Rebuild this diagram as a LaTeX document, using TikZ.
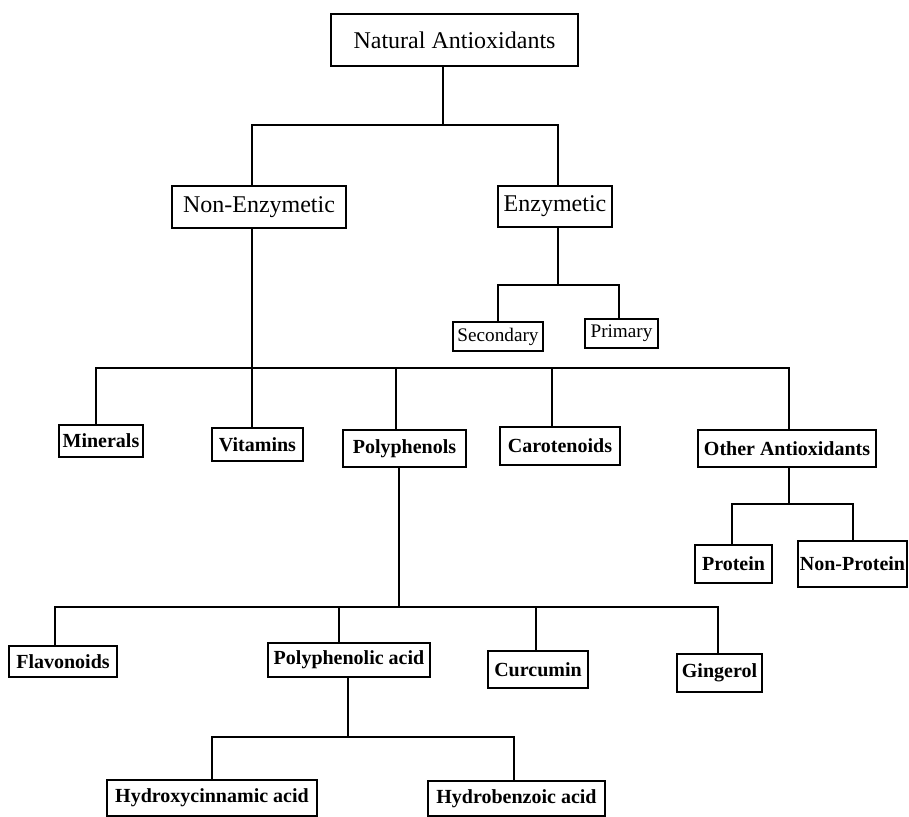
\documentclass[tikz,border=0pt]{standalone}
\usepackage{fontspec}
\setmainfont{Liberation Serif}
\tikzset{
  box/.style={draw, line width=1pt, rectangle, inner sep=0pt, align=center},
  topbox/.style={box, font=\fontsize{12}{14}\selectfont},
  smallbox/.style={box, font=\fontsize{9.6}{11}\selectfont},
  boldbox/.style={box, font=\bfseries\fontsize{10}{12}\selectfont},
  link/.style={line width=1pt}
}
\begin{document}
\begin{tikzpicture}[x=0.5pt, y=-0.5pt]
  \useasboundingbox (0,0) rectangle (909,817);
  % top levels
  \node[topbox, minimum width=123.5pt, minimum height=26pt] (nat) at (454.5,40) {Natural Antioxidants};
  \node[topbox, minimum width=87pt, minimum height=21pt] (nonenz) at (259,207) {Non-Enzymetic};
  \node[topbox, minimum width=57pt, minimum height=20.5pt] (enz) at (555,206.5) {Enzymetic};
  \node[smallbox, minimum width=45pt, minimum height=14.5pt] (sec) at (498,336.5) {Secondary};
  \node[smallbox, minimum width=36.5pt, minimum height=14.5pt] (prim) at (621.5,333.5) {Primary};
  % non-enzymetic groups
  \node[boldbox, minimum width=42pt, minimum height=16pt] (min) at (101,441) {Minerals};
  \node[boldbox, minimum width=45.5pt, minimum height=16.5pt] (vit) at (257.5,444.5) {Vitamins};
  \node[boldbox, minimum width=61.5pt, minimum height=18.5pt] (poly) at (404.5,448.5) {Polyphenols};
  \node[boldbox, minimum width=60pt, minimum height=19pt] (caro) at (560,446) {Carotenoids};
  \node[boldbox, minimum width=89pt, minimum height=18.5pt] (other) at (787,448.5) {Other Antioxidants};
  \node[boldbox, minimum width=38.5pt, minimum height=19pt] (prot) at (733.5,564) {Protein};
  \node[boldbox, minimum width=54.5pt, minimum height=23pt] (nonprot) at (852.5,564) {Non-Protein};
  % polyphenols
  \node[boldbox, minimum width=54pt, minimum height=15.5pt] (flav) at (63,661.5) {Flavonoids};
  \node[boldbox, minimum width=81pt, minimum height=17pt] (pacid) at (349,660) {Polyphenolic acid};
  \node[boldbox, minimum width=50pt, minimum height=18.5pt] (curc) at (538,669.5) {Curcumin};
  \node[boldbox, minimum width=42.5pt, minimum height=19pt] (ging) at (719.5,673) {Gingerol};
  \node[boldbox, minimum width=105pt, minimum height=18pt] (hcin) at (212,798) {Hydroxycinnamic acid};
  \node[boldbox, minimum width=88.5pt, minimum height=17.5pt] (hbenz) at (516.5,798.5) {Hydrobenzoic acid};

  % bus points
  \coordinate (j0) at (443,125);
  \coordinate (t1) at (252,125);
  \coordinate (t2) at (558,125);
  \coordinate (e1) at (498,285);
  \coordinate (e2) at (619,285);
  \coordinate (n1) at (96,368);
  \coordinate (n2) at (789,368);
  \coordinate (n3) at (396,368);
  \coordinate (n4) at (552,368);
  \coordinate (o1) at (732,504);
  \coordinate (o2) at (853,504);
  \coordinate (p0) at (399,607);
  \coordinate (p1) at (55,607);
  \coordinate (p2) at (339,607);
  \coordinate (p3) at (536,607);
  \coordinate (p4) at (718,607);
  \coordinate (a0) at (348,737);
  \coordinate (a1) at (212,737);
  \coordinate (a2) at (514,737);

  % connectors
  \draw[link] (nat.south -| j0) -- (j0);
  \draw[link] (nonenz.north -| t1) |- (t2) -- (enz.north -| t2);
  \draw[link] (enz.south -| t2) -- (t2 |- e1);
  \draw[link] (sec.north -| e1) |- (e2) -- (prim.north -| e2);
  \draw[link] (nonenz.south -| t1) -- (vit.north -| t1);
  \draw[link] (min.north -| n1) |- (n2) -- (other.north -| n2);
  \draw[link] (n3) -- (poly.north -| n3);
  \draw[link] (n4) -- (caro.north -| n4);
  \draw[link] (other.south -| n2) -- (n2 |- o1);
  \draw[link] (prot.north -| o1) |- (o2) -- (nonprot.north -| o2);
  \draw[link] (poly.south -| p0) -- (p0);
  \draw[link] (flav.north -| p1) |- (p4) -- (ging.north -| p4);
  \draw[link] (p2) -- (pacid.north -| p2);
  \draw[link] (p3) -- (curc.north -| p3);
  \draw[link] (pacid.south -| a0) -- (a0);
  \draw[link] (hcin.north -| a1) |- (a2) -- (hbenz.north -| a2);
\end{tikzpicture}
\end{document}
